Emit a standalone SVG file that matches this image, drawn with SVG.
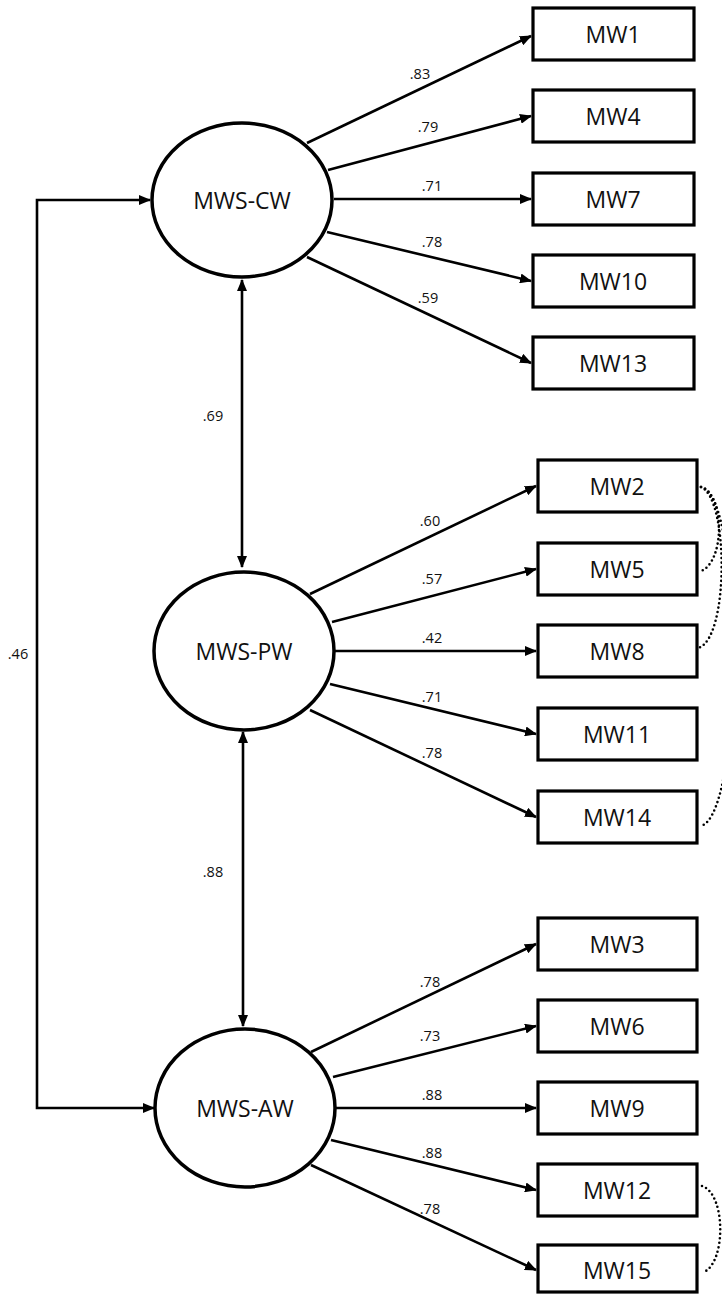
<svg xmlns="http://www.w3.org/2000/svg" width="722" height="1294" viewBox="0 0 722 1294">
<style>
.node ellipse{fill:#fff;stroke:#000;stroke-width:3.5}
.node rect{fill:#fff;stroke:#000;stroke-width:3.2}
.lbl{font-family:"Open Sans","Liberation Sans",sans-serif;font-size:23px;fill:#111;text-anchor:middle;dominant-baseline:central}
.num{font-family:"Open Sans","Liberation Sans",sans-serif;font-size:14.5px;fill:#111;text-anchor:middle}
.edge{fill:none;stroke:#000;stroke-width:2.6}
.dot{fill:none;stroke:#000;stroke-width:2.6;stroke-linecap:round;stroke-dasharray:0 4.5}
</style>
<defs>
<marker id="ah" markerUnits="userSpaceOnUse" markerWidth="12" markerHeight="10" viewBox="0 0 12 10" refX="11" refY="5" orient="auto-start-reverse">
<path d="M0,0 L12,5 L0,10 Z" fill="#000"/>
</marker>
</defs>
<g id="connectors">
<path class="edge" d="M307,143 L531,36" marker-end="url(#ah)"/>
<path class="edge" d="M328,170 L531,116" marker-end="url(#ah)"/>
<path class="edge" d="M334,199 L531,199" marker-end="url(#ah)"/>
<path class="edge" d="M327,232 L531,281" marker-end="url(#ah)"/>
<path class="edge" d="M307,257 L531,363" marker-end="url(#ah)"/>
<path class="edge" d="M310,594 L536,486" marker-end="url(#ah)"/>
<path class="edge" d="M332,622 L536,569" marker-end="url(#ah)"/>
<path class="edge" d="M335,651 L536,651" marker-end="url(#ah)"/>
<path class="edge" d="M330,684 L536,734" marker-end="url(#ah)"/>
<path class="edge" d="M310,710 L536,817" marker-end="url(#ah)"/>
<path class="edge" d="M311,1052 L536,944" marker-end="url(#ah)"/>
<path class="edge" d="M333,1077 L536,1026" marker-end="url(#ah)"/>
<path class="edge" d="M336,1108 L536,1108" marker-end="url(#ah)"/>
<path class="edge" d="M331,1140 L536,1190" marker-end="url(#ah)"/>
<path class="edge" d="M311,1165 L536,1270" marker-end="url(#ah)"/>
<path class="edge" d="M242,280 L242,567" marker-start="url(#ah)" marker-end="url(#ah)"/>
<path class="edge" d="M243,732 L243,1026" marker-start="url(#ah)" marker-end="url(#ah)"/>
<path class="edge" d="M150,200 H37 V1108 H154" marker-start="url(#ah)" marker-end="url(#ah)"/>
<path class="dot" d="M701,487 C725,494 725,562 701,571"/>
<path class="dot" d="M701,487 C729,498 729,640 698,648"/>
<path class="dot" d="M701,487 C744,496 744,814 701,826"/>
<path class="dot" d="M702,1186 C726,1194 726,1262 704,1272"/>
<text class="num" x="420" y="79">.83</text>
<text class="num" x="428" y="132">.79</text>
<text class="num" x="432" y="191">.71</text>
<text class="num" x="432" y="247">.78</text>
<text class="num" x="428" y="303">.59</text>
<text class="num" x="430" y="526">.60</text>
<text class="num" x="432" y="584">.57</text>
<text class="num" x="432" y="643">.42</text>
<text class="num" x="432" y="702">.71</text>
<text class="num" x="432" y="758">.78</text>
<text class="num" x="430" y="987">.78</text>
<text class="num" x="430" y="1041">.73</text>
<text class="num" x="432" y="1100">.88</text>
<text class="num" x="432" y="1158">.88</text>
<text class="num" x="430" y="1214">.78</text>
<text class="num" x="213" y="421">.69</text>
<text class="num" x="213" y="877">.88</text>
<text class="num" x="18" y="659">.46</text>
</g>
<g id="MWS-CW" class="node"><ellipse cx="242" cy="200" rx="90" ry="77"/><text class="lbl" x="242" y="200">MWS-CW</text></g>
<g id="MWS-PW" class="node"><ellipse cx="244" cy="651" rx="90" ry="79"/><text class="lbl" x="244" y="651">MWS-PW</text></g>
<g id="MWS-AW" class="node"><ellipse cx="245" cy="1108" rx="90" ry="79"/><text class="lbl" x="245" y="1108">MWS-AW</text></g>
<g id="MW1" class="node"><rect x="533" y="8" width="161" height="52"/><text class="lbl" x="613" y="34">MW1</text></g>
<g id="MW4" class="node"><rect x="533" y="90" width="161" height="52"/><text class="lbl" x="613" y="116">MW4</text></g>
<g id="MW7" class="node"><rect x="533" y="173" width="161" height="52"/><text class="lbl" x="613" y="199">MW7</text></g>
<g id="MW10" class="node"><rect x="533" y="255" width="161" height="52"/><text class="lbl" x="613" y="281">MW10</text></g>
<g id="MW13" class="node"><rect x="533" y="337" width="161" height="52"/><text class="lbl" x="613" y="363">MW13</text></g>
<g id="MW2" class="node"><rect x="538" y="460" width="159" height="52"/><text class="lbl" x="617" y="486">MW2</text></g>
<g id="MW5" class="node"><rect x="538" y="543" width="159" height="52"/><text class="lbl" x="617" y="569">MW5</text></g>
<g id="MW8" class="node"><rect x="538" y="625" width="159" height="52"/><text class="lbl" x="617" y="651">MW8</text></g>
<g id="MW11" class="node"><rect x="538" y="708" width="159" height="52"/><text class="lbl" x="617" y="734">MW11</text></g>
<g id="MW14" class="node"><rect x="538" y="791" width="159" height="52"/><text class="lbl" x="617" y="817">MW14</text></g>
<g id="MW3" class="node"><rect x="538" y="918" width="159" height="52"/><text class="lbl" x="617" y="944">MW3</text></g>
<g id="MW6" class="node"><rect x="538" y="1000" width="159" height="52"/><text class="lbl" x="617" y="1026">MW6</text></g>
<g id="MW9" class="node"><rect x="538" y="1082" width="159" height="52"/><text class="lbl" x="617" y="1108">MW9</text></g>
<g id="MW12" class="node"><rect x="538" y="1164" width="159" height="52"/><text class="lbl" x="617" y="1190">MW12</text></g>
<g id="MW15" class="node"><rect x="538" y="1245" width="159" height="47"/><text class="lbl" x="617" y="1270">MW15</text></g>
</svg>
